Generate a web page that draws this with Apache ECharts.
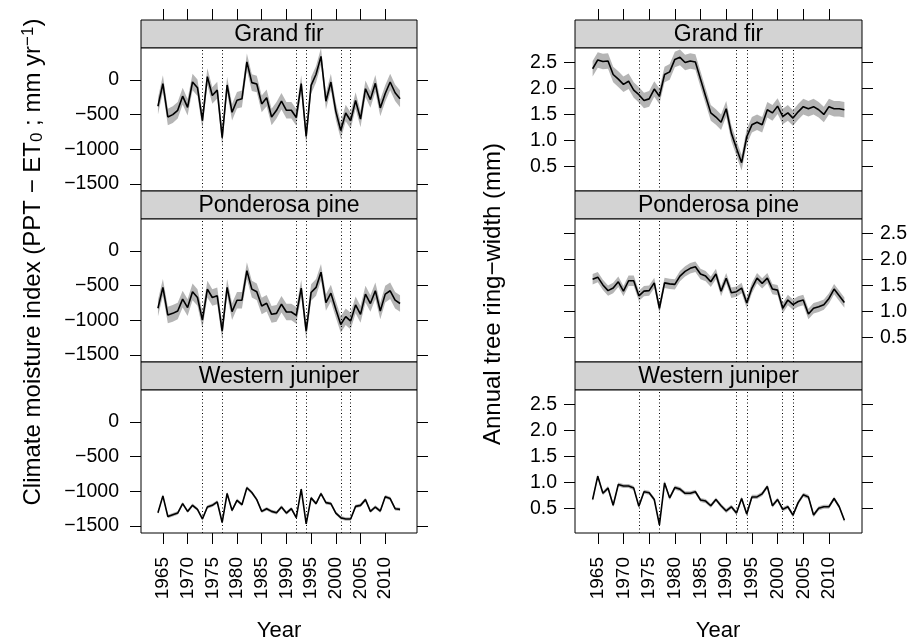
<!DOCTYPE html>
<html lang="en">
  <head>
    <meta charset="UTF-8" />
    <title>Climate moisture index and tree ring-width</title>
    <script src="https://cdn.jsdelivr.net/npm/echarts@6/dist/echarts.min.js"></script>
    <style>
      html, body { margin: 0; padding: 0; background: #fff; }
      #main { width: 912px; height: 642px; }
    </style>
  </head>
  <body>
    <div id="main"></div>
    <script>
      // ---- data ----
      const years = [
        1964, 1965, 1966, 1967, 1968, 1969, 1970, 1971, 1972, 1973,
        1974, 1975, 1976, 1977, 1978, 1979, 1980, 1981, 1982, 1983,
        1984, 1985, 1986, 1987, 1988, 1989, 1990, 1991, 1992, 1993,
        1994, 1995, 1996, 1997, 1998, 1999, 2000, 2001, 2002, 2003,
        2004, 2005, 2006, 2007, 2008, 2009, 2010, 2011, 2012, 2013
      ];
      const yearTicks = [1965, 1970, 1975, 1980, 1985, 1990, 1995, 2000, 2005, 2010];
      const cmiTicks = [-1500, -1000, -500, 0];
      const rwTicks = [0.5, 1.0, 1.5, 2.0, 2.5];
      const dryYears = [1973, 1977, 1992, 1994, 2001, 2003];
      const species = ["Grand fir", "Ponderosa pine", "Western juniper"];

      // climate moisture index (PPT - ET0), mm/yr
      const gfCmi = [
        -379, -53, -534, -500, -437, -233, -394, -29, -111, -588,
        49, -223, -146, -831, -72, -466, -292, -272, 262, -38,
        -58, -345, -257, -534, -437, -306, -437, -437, -540, -53,
        -816, -77, 83, 341, -306, -29, -452, -729, -476, -588,
        -296, -563, -126, -282, -48, -403, -194, -29, -184, -272
      ];
      const ppCmi = [
        -827, -525, -924, -900, -866, -695, -817, -589, -671, -997,
        -550, -671, -647, -1158, -525, -875, -710, -710, -283, -550,
        -589, -793, -754, -914, -900, -768, -880, -880, -929, -535,
        -1158, -598, -525, -306, -744, -608, -841, -1060, -948, -1012,
        -778, -914, -622, -758, -574, -866, -622, -574, -710, -758
      ];
      const wjCmi = [
        -1310, -1066, -1364, -1339, -1314, -1178, -1290, -1203, -1261, -1400,
        -1227, -1203, -1154, -1450, -1032, -1276, -1130, -1193, -949, -1018,
        -1120, -1290, -1251, -1290, -1310, -1227, -1314, -1251, -1380, -969,
        -1470, -1095, -1178, -1032, -1164, -1178, -1314, -1381, -1400, -1400,
        -1218, -1203, -1120, -1290, -1227, -1285, -1080, -1105, -1251, -1261
      ];

      // annual tree ring-width, mm
      const gfRw = [
        2.38, 2.55, 2.52, 2.53, 2.27, 2.18, 2.08, 2.14, 1.97, 1.88,
        1.77, 1.80, 1.99, 1.85, 2.27, 2.32, 2.56, 2.60, 2.50, 2.53,
        2.51, 2.18, 1.85, 1.53, 1.45, 1.35, 1.61, 1.14, 0.85, 0.57,
        1.07, 1.30, 1.35, 1.30, 1.59, 1.53, 1.66, 1.46, 1.53, 1.43,
        1.55, 1.65, 1.61, 1.65, 1.59, 1.50, 1.65, 1.61, 1.61, 1.59
      ];
      const ppRw = [
        1.62, 1.66, 1.51, 1.40, 1.45, 1.57, 1.39, 1.59, 1.59, 1.30,
        1.39, 1.40, 1.55, 1.06, 1.55, 1.53, 1.52, 1.68, 1.77, 1.83,
        1.86, 1.72, 1.68, 1.57, 1.72, 1.39, 1.64, 1.36, 1.38, 1.45,
        1.16, 1.45, 1.64, 1.54, 1.64, 1.43, 1.41, 1.06, 1.22, 1.13,
        1.19, 1.22, 0.95, 1.06, 1.09, 1.13, 1.25, 1.43, 1.30, 1.17
      ];
      const wjRw = [
        0.67, 1.12, 0.79, 0.89, 0.56, 0.96, 0.93, 0.93, 0.89, 0.54,
        0.82, 0.80, 0.67, 0.18, 0.99, 0.70, 0.90, 0.87, 0.79, 0.79,
        0.82, 0.66, 0.64, 0.55, 0.67, 0.55, 0.45, 0.53, 0.41, 0.69,
        0.39, 0.72, 0.72, 0.78, 0.92, 0.55, 0.67, 0.48, 0.53, 0.37,
        0.61, 0.76, 0.72, 0.37, 0.50, 0.53, 0.53, 0.69, 0.53, 0.27
      ];

      // half-width of the grey band, per species
      const cmiBand = [120, 120, 25];
      const rwBand = [0.15, 0.1, 0.04];

      // ---- layout ----
      const fontFamily = '"Liberation Sans", Arial, Helvetica, sans-serif';
      const stripTop = 20;
      const stripH = 28;
      const panelH = 143;
      const xMin = 1960.57;
      const xMax = 2016.43;

      function minusFmt(v) {
        return v < 0 ? "\u2212" + Math.abs(v) : String(v);
      }

      const cols = [
        {
          left: 141, width: 276, min: -1602, max: 462, ticks: cmiTicks,
          values: [gfCmi, ppCmi, wjCmi], band: cmiBand, fmt: minusFmt,
          labelSide: ["left", "left", "left"], margin: 22
        },
        {
          left: 575, width: 287, min: 0.025, max: 2.78, ticks: rwTicks,
          values: [gfRw, ppRw, wjRw], band: rwBand, fmt: (v) => v.toFixed(1),
          labelSide: ["left", "right", "left"], margin: 18
        }
      ];

      let grid = [];
      let xAxis = [];
      let yAxis = [];
      let series = [];
      let graphic = [];

      cols.forEach((col, c) => {
        species.forEach((name, r) => {
          let sTop = stripTop + r * (stripH + panelH);
          let pTop = sTop + stripH;

          // strip with species name
          let sg = grid.length;
          grid.push({
            show: true, left: col.left, top: sTop, width: col.width, height: stripH,
            backgroundColor: "#d3d3d3", borderColor: "#000", borderWidth: 1
          });
          xAxis.push({
            type: "value", gridIndex: sg, min: xMin, max: xMax, position: "top",
            show: r === 0,
            axisLine: { show: false, onZero: false },
            splitLine: { show: false },
            axisLabel: { show: false },
            axisTick: {
              show: true, inside: false, length: 11, customValues: yearTicks,
              lineStyle: { color: "#000", width: 1 }
            }
          });
          yAxis.push({ type: "value", gridIndex: sg, min: 0, max: 1, show: false });
          graphic.push({
            type: "text",
            x: col.left + col.width / 2,
            y: sTop + stripH / 2 + 1,
            style: {
              text: name, font: "23px " + fontFamily, fill: "#000",
              align: "center", verticalAlign: "middle"
            }
          });

          // data panel
          let pg = grid.length;
          grid.push({
            show: true, left: col.left, top: pTop, width: col.width, height: panelH,
            backgroundColor: "#fff", borderColor: "#000", borderWidth: 1
          });
          let isBottom = r === species.length - 1;
          let xi = xAxis.length;
          xAxis.push({
            type: "value", gridIndex: pg, min: xMin, max: xMax, position: "bottom",
            axisLine: { show: false, onZero: false },
            splitLine: { show: false },
            axisTick: {
              show: isBottom, length: 11, customValues: yearTicks,
              lineStyle: { color: "#000", width: 1 }
            },
            axisLabel: {
              show: isBottom, customValues: yearTicks, rotate: 90, margin: 24,
              formatter: (v) => String(v),
              fontSize: 19, color: "#000", fontFamily: fontFamily
            }
          });
          let yi = yAxis.length;
          ["left", "right"].forEach((side) => {
            yAxis.push({
              type: "value", gridIndex: pg, position: side, min: col.min, max: col.max,
              axisLine: { show: false, onZero: false },
              splitLine: { show: false },
              axisTick: {
                show: true, length: 11, customValues: col.ticks,
                lineStyle: { color: "#000", width: 1 }
              },
              axisLabel: {
                show: side === col.labelSide[r], customValues: col.ticks,
                formatter: col.fmt, margin: col.margin,
                fontSize: 19.5, color: "#000", fontFamily: fontFamily
              }
            });
          });

          let vals = col.values[r];
          let w = col.band[r];

          // grey band around the line, drawn as one polygon through the axes
          series.push({
            type: "custom", xAxisIndex: xi, yAxisIndex: yi, silent: true, z: 2,
            data: [[years[0], vals[0]]],
            renderItem: function (params, api) {
              let pts = [];
              years.forEach((y, i) => pts.push(api.coord([y, vals[i] + w])));
              for (let i = years.length - 1; i >= 0; i--) {
                pts.push(api.coord([years[i], vals[i] - w]));
              }
              return {
                type: "polygon",
                shape: { points: pts },
                style: { fill: "#b5b5b5", stroke: null }
              };
            }
          });
          series.push({
            type: "line", xAxisIndex: xi, yAxisIndex: yi, symbol: "none",
            silent: true, z: 4,
            lineStyle: { color: "#000", width: 1.6 },
            data: years.map((y, i) => [y, vals[i]]),
            markLine: {
              silent: true, symbol: ["none", "none"],
              label: { show: false },
              lineStyle: { color: "#000", width: 1, type: [1, 2.5] },
              data: dryYears.map((d) => ({ xAxis: d }))
            }
          });
        });
      });

      // axis titles
      let titleFont = "22px " + fontFamily;
      let yTitleFont = "24px " + fontFamily;
      graphic.push({
        type: "text", x: 279, y: 631,
        style: { text: "Year", font: titleFont, fill: "#000", align: "center", verticalAlign: "middle" }
      });
      graphic.push({
        type: "text", x: 718, y: 631,
        style: { text: "Year", font: titleFont, fill: "#000", align: "center", verticalAlign: "middle" }
      });
      graphic.push({
        type: "text", x: 33, y: 262, rotation: Math.PI / 2,
        style: {
          text: "Climate moisture index (PPT \u2212 ET{sub|0} ; mm yr{sup|\u22121})",
          font: yTitleFont, fill: "#000", align: "center", verticalAlign: "middle",
          rich: {
            sub: { fontSize: 17, fontFamily: fontFamily, verticalAlign: "bottom", padding: [9, 0, 0, 0] },
            sup: { fontSize: 17, fontFamily: fontFamily, verticalAlign: "top", padding: [0, 0, 9, 0] }
          }
        }
      });
      graphic.push({
        type: "text", x: 493, y: 294, rotation: Math.PI / 2,
        style: {
          text: "Annual tree ring\u2212width (mm)",
          font: yTitleFont, fill: "#000", align: "center", verticalAlign: "middle"
        }
      });

      let myChart = echarts.init(document.getElementById("main"));
      myChart.setOption({
        animation: false,
        backgroundColor: "#fff",
        grid: grid,
        xAxis: xAxis,
        yAxis: yAxis,
        series: series,
        graphic: graphic
      });
    </script>
  </body>
</html>
